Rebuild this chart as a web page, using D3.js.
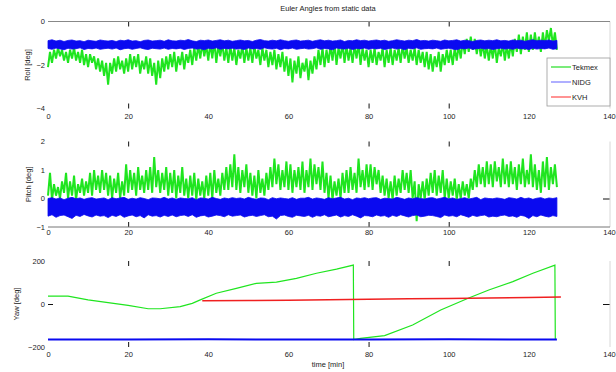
<!DOCTYPE html>
<html>
<head>
<meta charset="utf-8">
<script src="https://cdnjs.cloudflare.com/ajax/libs/d3/7.8.5/d3.min.js"></script>
<style>
  body { margin: 0; background: #fff; }
  svg { display: block; }
  text { font-family: "Liberation Sans", Arial, sans-serif; }
</style>
</head>
<body>
<div id="chart"></div>
<script>
// ---- data ----
const seriesNames = ["Tekmex", "NIDG", "KVH"];
const seriesColors = ["#1fe51f", "#0a0af0", "#f02020"];
const legendColors = ["#22dd22", "#7a7aff", "#ff4a4a"];
const xTicks = [0, 20, 40, 60, 80, 100, 120, 140];
const rollTicks = [0, -2, -4];
const pitchTicks = [2, 1, 0, -1];
const yawTicks = [200, 0, -200];

// Tekmex roll, one sample every 0.5 min
const tekmexRoll = [
  -2.1,-1.4,-1.9,-1.3,-1.7,-1.2,-1.6,-1.3,-1.8,-1.4,
  -1.9,-1.3,-1.7,-1.2,-1.8,-1.4,-1.9,-1.3,-2.0,-1.5,
  -2.1,-1.5,-1.9,-1.6,-2.2,-1.7,-2.3,-1.8,-2.5,-1.9,
  -2.9,-1.9,-2.4,-1.7,-2.3,-1.6,-2.2,-1.8,-2.4,-1.7,
  -2.3,-1.5,-2.2,-1.6,-2.1,-1.5,-2.4,-1.8,-2.2,-1.6,
  -2.4,-1.7,-2.5,-1.9,-2.9,-1.8,-2.6,-1.7,-2.3,-1.6,
  -2.2,-1.5,-2.1,-1.4,-2.3,-1.6,-2.0,-1.4,-2.2,-1.5,
  -1.9,-1.3,-2.0,-1.2,-1.8,-1.1,-1.7,-1.0,-1.6,-1.1,
  -1.8,-1.0,-1.7,-0.9,-1.9,-1.1,-1.6,-1.0,-1.8,-1.2,
  -1.9,-1.1,-1.8,-1.2,-2.0,-1.3,-1.7,-1.1,-1.9,-1.2,
  -1.8,-1.2,-1.9,-1.1,-1.7,-1.3,-2.0,-1.2,-1.8,-1.3,
  -2.1,-1.4,-2.0,-1.3,-2.2,-1.5,-2.1,-1.4,-2.3,-1.6,
  -2.5,-1.7,-2.8,-1.8,-2.4,-1.6,-2.6,-1.9,-2.3,-1.7,
  -2.7,-1.8,-2.4,-1.6,-2.2,-1.3,-2.0,-1.2,-2.1,-1.3,
  -1.9,-1.1,-1.8,-1.0,-2.0,-1.2,-1.7,-1.0,-1.9,-1.1,
  -1.8,-1.2,-1.9,-1.1,-1.7,-1.0,-2.0,-1.2,-1.8,-1.3,
  -2.1,-1.3,-1.9,-1.2,-2.0,-1.4,-1.8,-1.2,-2.1,-1.3,
  -1.9,-1.2,-2.0,-1.3,-1.8,-1.2,-1.9,-1.1,-1.7,-1.2,
  -1.9,-1.3,-1.8,-1.2,-2.0,-1.3,-1.9,-1.4,-2.1,-1.4,
  -2.2,-1.5,-2.3,-1.6,-2.1,-1.4,-2.3,-1.5,-2.0,-1.3,
  -1.9,-1.3,-2.0,-1.2,-1.8,-1.1,-1.7,-0.9,-1.5,-0.8,
  -1.4,-0.7,-1.3,-0.8,-1.5,-0.9,-1.6,-1.0,-1.7,-1.1,
  -1.8,-1.1,-1.7,-1.0,-1.9,-1.2,-1.6,-1.0,-1.8,-1.1,
  -1.7,-1.0,-1.6,-0.8,-1.4,-0.6,-1.5,-0.7,-1.3,-0.5,
  -1.4,-0.6,-1.3,-0.5,-1.2,-0.7,-1.4,-0.5,-1.2,-0.4,
  -0.9,-0.3,-1.1,-0.5,-1.3
];

// NIDG roll band, upper and lower edge every 1 min
const nidgRollHi = [
  -0.88,-0.84,-0.9,-0.86,-0.92,-0.87,-0.85,-0.9,-0.88,-0.93,-0.86,-0.89,-0.91,-0.85,-0.88,-0.9,
  -0.87,-0.92,-0.86,-0.89,-0.84,-0.9,-0.88,-0.93,-0.87,-0.85,-0.9,-0.88,-0.86,-0.91,-0.84,-0.89,
  -0.9,-0.86,-0.88,-0.83,-0.89,-0.92,-0.86,-0.88,-0.85,-0.9,-0.87,-0.84,-0.89,-0.86,-0.91,-0.88,
  -0.85,-0.89,-0.87,-0.92,-0.86,-0.83,-0.88,-0.9,-0.86,-0.89,-0.84,-0.88,-0.91,-0.87,-0.85,-0.9,
  -0.88,-0.86,-0.91,-0.87,-0.84,-0.89,-0.86,-0.9,-0.88,-0.85,-0.92,-0.87,-0.89,-0.84,-0.88,-0.86,
  -0.9,-0.87,-0.85,-0.89,-0.86,-0.91,-0.88,-0.84,-0.87,-0.9,-0.86,-0.88,-0.83,-0.89,-0.87,-0.9,
  -0.86,-0.88,-0.91,-0.85,-0.89,-0.87,-0.84,-0.9,-0.86,-0.88,-0.92,-0.87,-0.85,-0.89,-0.86,-0.88,
  -0.84,-0.89,-0.87,-0.9,-0.85,-0.88,-0.86,-0.91,-0.87,-0.84,-0.89,-0.86,-0.88,-0.85,-0.9,-0.87
];
const nidgRollLo = [
  -1.24,-1.28,-1.22,-1.26,-1.3,-1.23,-1.27,-1.25,-1.21,-1.29,-1.24,-1.26,-1.22,-1.28,-1.25,-1.23,
  -1.27,-1.22,-1.3,-1.25,-1.23,-1.28,-1.24,-1.21,-1.26,-1.29,-1.23,-1.25,-1.27,-1.22,-1.28,-1.24,
  -1.26,-1.23,-1.29,-1.24,-1.22,-1.27,-1.25,-1.3,-1.23,-1.26,-1.21,-1.28,-1.24,-1.26,-1.23,-1.27,
  -1.25,-1.29,-1.22,-1.26,-1.24,-1.28,-1.21,-1.25,-1.27,-1.23,-1.3,-1.24,-1.26,-1.22,-1.28,-1.25,
  -1.23,-1.27,-1.25,-1.21,-1.28,-1.24,-1.26,-1.3,-1.22,-1.25,-1.27,-1.23,-1.29,-1.24,-1.26,-1.22,
  -1.28,-1.24,-1.26,-1.23,-1.29,-1.25,-1.22,-1.27,-1.24,-1.3,-1.23,-1.26,-1.21,-1.28,-1.25,-1.24,
  -1.26,-1.22,-1.28,-1.25,-1.23,-1.27,-1.3,-1.24,-1.26,-1.22,-1.28,-1.25,-1.23,-1.27,-1.24,-1.29,
  -1.25,-1.23,-1.27,-1.24,-1.28,-1.22,-1.26,-1.25,-1.29,-1.23,-1.27,-1.24,-1.26,-1.22,-1.28,-1.25
];

// Tekmex pitch, one sample every 0.5 min
const tekmexPitch = [
  0.1,0.9,-0.05,0.5,0.1,0.4,0.0,0.6,0.2,0.9,
  0.0,0.6,0.1,0.8,-0.05,0.5,0.2,0.7,0.1,0.6,
  0.2,0.9,0.1,1.0,0.3,0.8,0.2,1.0,0.3,0.9,
  0.1,0.8,0.0,0.7,0.2,0.9,0.0,0.6,0.1,1.2,
  0.2,1.0,0.3,0.9,0.1,1.1,0.3,0.8,0.2,1.0,
  0.3,1.1,0.2,1.45,0.4,1.0,0.2,0.9,0.3,1.1,
  0.1,0.9,0.2,1.0,0.0,0.8,0.2,1.1,0.1,0.7,
  0.0,0.8,0.1,0.9,-0.05,0.7,0.1,0.6,0.0,0.8,
  0.1,0.9,0.0,1.0,0.2,0.7,0.1,0.9,0.3,1.1,
  0.3,1.2,0.4,1.55,0.3,1.1,0.2,1.0,0.4,1.2,
  0.2,0.9,0.1,0.8,0.0,1.0,0.2,0.7,0.1,0.9,
  0.3,1.1,0.4,1.4,0.5,1.2,0.3,1.0,0.4,1.3,
  0.3,1.2,0.2,1.0,0.4,1.1,0.3,1.3,0.2,1.0,
  0.4,1.4,0.3,1.2,0.5,1.1,0.3,1.3,0.2,0.9,
  0.0,0.8,-0.05,0.6,0.1,0.7,0.0,0.9,0.2,1.0,
  0.2,1.1,0.3,0.9,0.2,1.4,0.4,1.0,0.3,1.2,
  0.4,1.2,0.3,1.1,0.5,1.0,0.2,0.8,0.1,0.7,
  0.0,0.6,-0.05,0.8,0.1,0.7,0.2,1.0,0.3,0.9,
  0.2,1.0,0.0,0.6,-0.8,0.5,0.0,0.6,-0.05,0.7,
  0.1,0.9,0.2,1.0,0.1,0.8,0.2,1.0,0.0,0.7,
  0.0,0.6,0.1,0.7,-0.05,0.5,0.0,0.6,0.1,0.5,
  0.0,0.7,0.3,1.0,0.4,1.2,0.5,1.1,0.4,1.3,
  0.5,1.2,0.4,1.3,0.6,1.1,0.4,1.4,0.5,1.2,
  0.4,1.3,0.5,1.1,0.3,1.2,0.5,1.4,0.4,1.0,
  0.5,1.55,0.4,1.2,0.3,1.0,0.2,1.3,0.4,1.45,
  0.3,1.1,0.5,1.2,0.4
];

// NIDG pitch band, upper and lower edge every 1 min
const nidgPitchHi = [
  0.0,0.03,-0.02,0.02,-0.04,0.01,0.04,-0.01,0.02,-0.03,0.01,0.03,-0.02,0.0,0.02,-0.04,
  0.03,-0.01,0.02,0.04,-0.03,0.01,-0.02,0.03,0.0,-0.04,0.02,0.01,-0.01,0.04,-0.02,0.02,
  -0.03,0.02,0.0,-0.01,0.03,-0.04,0.02,0.01,-0.02,0.04,0.0,-0.03,0.02,-0.01,0.03,0.0,
  0.02,-0.02,0.04,0.0,-0.03,0.02,0.01,-0.04,0.03,-0.01,0.02,0.0,-0.02,0.03,-0.03,0.01,
  0.01,0.04,-0.02,0.02,0.0,-0.03,0.03,-0.01,0.02,0.04,-0.02,0.01,-0.04,0.02,0.0,0.03,
  -0.01,0.02,0.03,-0.03,0.01,0.0,-0.02,0.04,0.01,-0.03,0.02,-0.01,0.03,0.0,-0.02,0.02,
  0.03,-0.02,0.01,0.04,-0.01,0.02,-0.03,0.0,0.03,-0.02,0.01,0.04,-0.04,0.02,0.0,-0.01,
  0.02,0.0,-0.03,0.03,0.01,-0.02,0.04,-0.01,0.02,-0.03,0.01,0.03,-0.02,0.02,0.0,0.03
];
const nidgPitchLo = [
  -0.62,-0.57,-0.66,-0.6,-0.58,-0.64,-0.7,-0.59,-0.63,-0.56,-0.61,-0.65,-0.58,-0.62,-0.6,-0.67,
  -0.59,-0.63,-0.57,-0.66,-0.61,-0.58,-0.64,-0.6,-0.68,-0.57,-0.62,-0.6,-0.65,-0.59,-0.63,-0.58,
  -0.64,-0.6,-0.58,-0.63,-0.57,-0.66,-0.61,-0.59,-0.65,-0.62,-0.58,-0.6,-0.64,-0.57,-0.62,-0.6,
  -0.58,-0.65,-0.61,-0.59,-0.63,-0.6,-0.57,-0.64,-0.62,-0.72,-0.6,-0.58,-0.63,-0.66,-0.59,-0.61,
  -0.63,-0.59,-0.66,-0.6,-0.62,-0.57,-0.64,-0.61,-0.58,-0.65,-0.6,-0.63,-0.57,-0.62,-0.68,-0.6,
  -0.61,-0.64,-0.58,-0.62,-0.6,-0.66,-0.59,-0.63,-0.57,-0.61,-0.65,-0.6,-0.58,-0.64,-0.62,-0.59,
  -0.6,-0.63,-0.67,-0.58,-0.62,-0.6,-0.64,-0.57,-0.61,-0.66,-0.59,-0.63,-0.6,-0.58,-0.65,-0.62,
  -0.64,-0.6,-0.58,-0.63,-0.61,-0.66,-0.59,-0.62,-0.7,-0.6,-0.64,-0.58,-0.62,-0.65,-0.6,-0.63
];

// Yaw (smooth heading traces)
const tekmexYawT = [0,5,10,15,20,25,28,33,36,38,42,47,52,57,62,67,72,76.2,76.3,78,84,91,98,105,110,116,121,126.5,126.6];
const tekmexYawV = [37,37,19,6,-6,-22,-22,-12,3,19,50,73,96,102,119,143,162,181,-165,-160,-147,-98,-28,28,65,104,143,181,-167];
const nidgYawT = [0,20,40,60,80,100,127];
const nidgYawV = [-165,-165,-164,-165,-165,-164,-165];
const kvhYawT = [38.5,50,60,70,80,90,100,110,120,128];
const kvhYawV = [15,16,18,20,22,24,26,28,30,33];

// ---- layout ----
const width = 616, height = 372;
const svg = d3.select("#chart").append("svg")
  .attr("width", width)
  .attr("height", height);

const x = d3.scaleLinear().domain([0, 140]).range([48, 609]);
const fontSize = 7.5;
const textColor = "#222";
const fmt = d3.format("~g");

// title
svg.append("text")
  .attr("x", 328).attr("y", 11)
  .attr("text-anchor", "middle")
  .attr("font-size", fontSize)
  .attr("fill", textColor)
  .text("Euler Angles from static data");

// draws the bits of axis that the figure shows
function drawAxes(y, opts) {
  const [yBottom, yTop] = y.range();

  // x tick labels
  svg.append("g")
    .attr("transform", `translate(0,${yBottom})`)
    .call(d3.axisBottom(x).tickValues(xTicks).tickFormat(fmt).tickSize(0).tickPadding(opts.xPad))
    .call(g => g.select(".domain").remove())
    .attr("font-size", fontSize)
    .attr("font-family", "Liberation Sans, Arial, sans-serif")
    .attr("color", textColor);

  // y tick labels
  svg.append("g")
    .attr("transform", `translate(${x(0)},0)`)
    .call(d3.axisLeft(y).tickValues(opts.yTicks).tickFormat(fmt).tickSize(0).tickPadding(3))
    .call(g => g.select(".domain").remove())
    .attr("font-size", fontSize)
    .attr("font-family", "Liberation Sans, Arial, sans-serif")
    .attr("color", textColor);

  // inside tick marks, top and bottom
  svg.append("g")
    .attr("transform", `translate(0,${yTop})`)
    .call(d3.axisTop(x).tickValues(opts.topTicks).tickSize(-5).tickFormat(""))
    .call(g => g.select(".domain").remove())
    .attr("color", "#111");
  svg.append("g")
    .attr("transform", `translate(0,${yBottom})`)
    .call(d3.axisBottom(x).tickValues(opts.bottomTicks).tickSize(-5).tickFormat(""))
    .call(g => g.select(".domain").remove())
    .attr("color", "#111");

  if (opts.leftTick) {
    svg.append("g")
      .attr("transform", `translate(${x(0)},0)`)
      .call(d3.axisLeft(y).tickValues(opts.leftTick).tickSize(-5).tickFormat(""))
      .call(g => g.select(".domain").remove())
      .attr("color", "#111");
  }
  if (opts.rightTick) {
    svg.append("g")
      .attr("transform", `translate(${x(140) + 1},0)`)
      .call(d3.axisRight(y).tickValues(opts.rightTick).tickSize(-7).tickFormat(""))
      .call(g => g.select(".domain").remove())
      .attr("color", "#111");
  }

  // faint right border
  svg.append("line")
    .attr("x1", x(140) + 1).attr("x2", x(140) + 1)
    .attr("y1", yTop).attr("y2", yBottom)
    .attr("stroke", "#d8d8d8").attr("stroke-width", 1);

  if (opts.topLine) {
    svg.append("line")
      .attr("x1", x(0)).attr("x2", x(140) + 1)
      .attr("y1", yTop).attr("y2", yTop)
      .attr("stroke", "#888").attr("stroke-width", 1);
  }
  if (opts.bottomLine) {
    svg.append("line")
      .attr("x1", x(0)).attr("x2", x(140) + 1)
      .attr("y1", yBottom).attr("y2", yBottom)
      .attr("stroke", "#777").attr("stroke-width", 1);
  }

  // y axis label
  svg.append("text")
    .attr("transform", `translate(${opts.labelX},${(yTop + yBottom) / 2}) rotate(-90)`)
    .attr("text-anchor", "middle")
    .attr("dy", "0.35em")
    .attr("font-size", fontSize)
    .attr("fill", textColor)
    .text(opts.label);
}

function drawNoisy(y, values, step, color) {
  svg.append("path")
    .datum(values)
    .attr("d", d3.line().x((d, i) => x(i * step)).y(d => y(d)))
    .attr("fill", "none")
    .attr("stroke", color)
    .attr("stroke-width", 2)
    .attr("stroke-linejoin", "bevel");
}

function drawBand(y, hi, lo, color) {
  svg.append("path")
    .datum(hi.map((d, i) => [i, d, lo[i]]))
    .attr("d", d3.area().x(d => x(d[0])).y0(d => y(d[2])).y1(d => y(d[1])))
    .attr("fill", color)
    .attr("stroke", color)
    .attr("stroke-width", 0.8);
}

function drawTrace(y, ts, vs, color, w) {
  svg.append("path")
    .datum(ts.map((t, i) => [t, vs[i]]))
    .attr("d", d3.line().x(d => x(d[0])).y(d => y(d[1])))
    .attr("fill", "none")
    .attr("stroke", color)
    .attr("stroke-width", w);
}

// ---- Roll ----
const yRoll = d3.scaleLinear().domain([-4, 0]).range([108.5, 21.5]);
drawAxes(yRoll, {
  yTicks: rollTicks, xPad: 5, label: "Roll [deg]", labelX: 27,
  topTicks: [20, 80, 100], bottomTicks: [20, 80, 100], topLine: true
});
drawNoisy(yRoll, tekmexRoll, 0.5, seriesColors[0]);
drawBand(yRoll, nidgRollHi, nidgRollLo, seriesColors[1]);

// ---- Pitch ----
const yPitch = d3.scaleLinear().domain([-1, 2]).range([227, 141.5]);
drawAxes(yPitch, {
  yTicks: pitchTicks, xPad: 3, label: "Pitch [deg]", labelX: 28,
  topTicks: [20, 80, 100], bottomTicks: [20, 80, 100], bottomLine: true, rightTick: [0]
});
drawNoisy(yPitch, tekmexPitch, 0.5, seriesColors[0]);
drawBand(yPitch, nidgPitchHi, nidgPitchLo, seriesColors[1]);

// ---- Yaw ----
const yYaw = d3.scaleLinear().domain([-200, 200]).range([347, 261]);
drawAxes(yYaw, {
  yTicks: yawTicks, xPad: 5, label: "Yaw [deg]", labelX: 16,
  topTicks: [20, 80, 100], bottomTicks: [20, 80], leftTick: [0], rightTick: [0]
});
drawTrace(yYaw, tekmexYawT, tekmexYawV, seriesColors[0], 1.2);
drawTrace(yYaw, nidgYawT, nidgYawV, seriesColors[1], 2);
drawTrace(yYaw, kvhYawT, kvhYawV, seriesColors[2], 1.5);

// x axis title
svg.append("text")
  .attr("x", 328).attr("y", 367)
  .attr("text-anchor", "middle")
  .attr("font-size", fontSize)
  .attr("fill", textColor)
  .text("time [min]");

// ---- legend ----
const legend = svg.append("g").attr("transform", "translate(547,58)");
legend.append("rect")
  .attr("width", 63).attr("height", 48)
  .attr("fill", "#fff")
  .attr("stroke", "#999").attr("stroke-width", 0.8);
seriesNames.forEach((name, i) => {
  const row = legend.append("g").attr("transform", `translate(0,${9 + i * 15})`);
  row.append("line")
    .attr("x1", 4).attr("x2", 24)
    .attr("stroke", legendColors[i]).attr("stroke-width", 1.2);
  row.append("text")
    .attr("x", 25).attr("dy", "0.35em")
    .attr("font-size", fontSize)
    .attr("fill", textColor)
    .text(name);
});
</script>
</body>
</html>
